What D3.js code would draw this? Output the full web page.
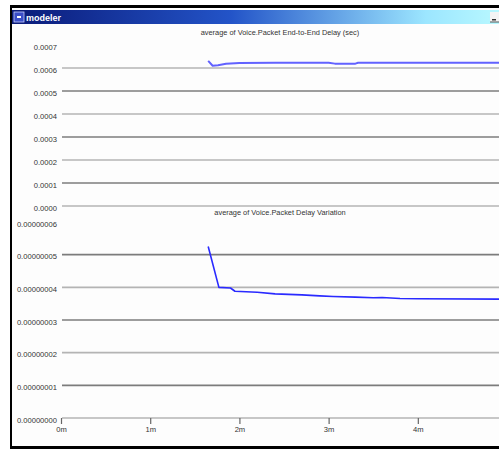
<!DOCTYPE html>
<html>
<head>
<meta charset="utf-8">
<script src="https://cdn.jsdelivr.net/npm/d3@7"></script>
<style>
  html, body { margin: 0; padding: 0; background: #ffffff; }
  svg { display: block; }
  text { font-family: "Liberation Sans Narrow", "Arial Narrow", "Liberation Sans", sans-serif; }
</style>
</head>
<body>
<svg id="chart" width="499" height="461"></svg>
<script>
// Simulation time, in minutes, for each statistic sample
const delayTimes = [1.65, 1.70, 1.76, 1.85, 2.00, 2.40, 3.00, 3.07, 3.30, 3.33, 4.00, 4.91];
// Average voice packet end-to-end delay (sec)
const delayValues = [0.000631, 0.000610, 0.000612, 0.000618, 0.000622, 0.000623, 0.000623, 0.000619, 0.000619, 0.000623, 0.000623, 0.000623];

const jitterTimes = [1.65, 1.77, 1.90, 1.95, 2.20, 2.40, 2.70, 2.90, 3.05, 3.30, 3.50, 3.60, 3.80, 4.00, 4.91];
// Average voice packet delay variation
const jitterValues = [5.25e-8, 4.00e-8, 3.98e-8, 3.88e-8, 3.85e-8, 3.80e-8, 3.77e-8, 3.74e-8, 3.72e-8, 3.70e-8, 3.68e-8, 3.69e-8, 3.66e-8, 3.65e-8, 3.64e-8];

const delayTicks = [0, 0.0001, 0.0002, 0.0003, 0.0004, 0.0005, 0.0006, 0.0007];
const jitterTicks = [0, 1e-8, 2e-8, 3e-8, 4e-8, 5e-8, 6e-8];
const timeTicks = [0, 1, 2, 3, 4];
const timeLabels = ["0m", "1m", "2m", "3m", "4m"];

const delayTitle = "average of Voice.Packet End-to-End Delay (sec)";
const jitterTitle = "average of Voice.Packet Delay Variation";

const svg = d3.select("#chart");

// Window frame
svg.append("rect").attr("x", 10).attr("y", 5).attr("width", 489).attr("height", 444).attr("fill", "#000");
svg.append("rect").attr("x", 12).attr("y", 8).attr("width", 487).attr("height", 438).attr("fill", "#fdfdfd");

// Title bar gradient
const defs = svg.append("defs");
const grad = defs.append("linearGradient").attr("id", "titlebar").attr("x1", 0).attr("x2", 1);
grad.append("stop").attr("offset", "0%").attr("stop-color", "#0a1a78");
grad.append("stop").attr("offset", "45%").attr("stop-color", "#2354c8");
grad.append("stop").attr("offset", "85%").attr("stop-color", "#9ce6ff");
grad.append("stop").attr("offset", "100%").attr("stop-color", "#b8f8ff");
svg.append("rect").attr("x", 12).attr("y", 10).attr("width", 487).attr("height", 14).attr("fill", "url(#titlebar)");
// Window icon
svg.append("rect").attr("x", 14).attr("y", 12).attr("width", 10).attr("height", 10).attr("fill", "#3a4ec8").attr("stroke", "#c8d0ff").attr("stroke-width", 0.8);
svg.append("rect").attr("x", 17).attr("y", 16).attr("width", 4).attr("height", 2).attr("fill", "#fff");
svg.append("text").attr("x", 26).attr("y", 20.5).attr("fill", "#fff").attr("font-size", 9).attr("font-weight", "bold").text("modeler");
// Minimise button
svg.append("rect").attr("x", 490).attr("y", 12).attr("width", 9).attr("height", 10).attr("fill", "#f4f4f4");
svg.append("rect").attr("x", 492).attr("y", 19).attr("width", 4).attr("height", 1.5).attr("fill", "#333");
svg.append("rect").attr("x", 490).attr("y", 21.5).attr("width", 9).attr("height", 1).attr("fill", "#555");

// Shared time scale
const x = d3.scaleLinear().domain([0, 4.91]).range([61, 499]);

const yDelay = d3.scaleLinear().domain([0, 0.0007]).range([206, 45]);
const yJitter = d3.scaleLinear().domain([0, 6e-8]).range([418, 222]);

function drawPanel(y, ticks, fmt, title, titleY, times, values, lineColor, lineWidth) {
  const g = svg.append("g");
  const axis = d3.axisLeft(y).tickValues(ticks).tickFormat(fmt).tickSize(0).tickPadding(0);
  const ag = g.append("g").attr("transform", "translate(57,0)").call(axis);
  ag.select(".domain").remove();
  ag.selectAll("text").attr("font-size", 7.6).attr("fill", "#333").attr("dy", "0.55em")
    .attr("font-family", "'Liberation Sans Narrow','Arial Narrow','Liberation Sans',sans-serif");
  // Horizontal grid lines (none at the top tick), alternating light and dark
  const top = ticks[ticks.length - 1];
  g.selectAll("line.grid").data(ticks.filter(t => t !== top)).enter().append("line")
    .attr("x1", 62).attr("x2", 499)
    .attr("y1", d => y(d)).attr("y2", d => y(d))
    .attr("stroke", (d, i) => (i % 2 === 0) ? "#b4b4b4" : "#7c7c7c")
    .attr("stroke-width", 1.6);
  g.append("text").attr("x", 280).attr("y", titleY).attr("text-anchor", "middle")
    .attr("font-size", 7.4).attr("fill", "#333").text(title);
  const line = d3.line().x((d, i) => x(times[i])).y(d => y(d));
  g.append("path").datum(values).attr("d", line).attr("fill", "none")
    .attr("stroke", lineColor).attr("stroke-width", lineWidth).attr("stroke-linejoin", "round");
}

drawPanel(yDelay, delayTicks, d3.format(".4f"), delayTitle, 35, delayTimes, delayValues, "#6262ff", 2);
drawPanel(yJitter, jitterTicks, d3.format(".8f"), jitterTitle, 215, jitterTimes, jitterValues, "#2a2aff", 1.6);

// Time axis
const xAxis = d3.axisBottom(x).tickValues(timeTicks).tickFormat((d, i) => timeLabels[i]).tickSize(6).tickPadding(3);
const xg = svg.append("g").attr("transform", "translate(0,418)").call(xAxis);
xg.select(".domain").remove();
xg.selectAll("line").attr("stroke", "#666").attr("stroke-width", 1.2);
xg.selectAll("text").attr("font-size", 7.6).attr("fill", "#333")
  .attr("font-family", "'Liberation Sans Narrow','Arial Narrow','Liberation Sans',sans-serif");
</script>
</body>
</html>
